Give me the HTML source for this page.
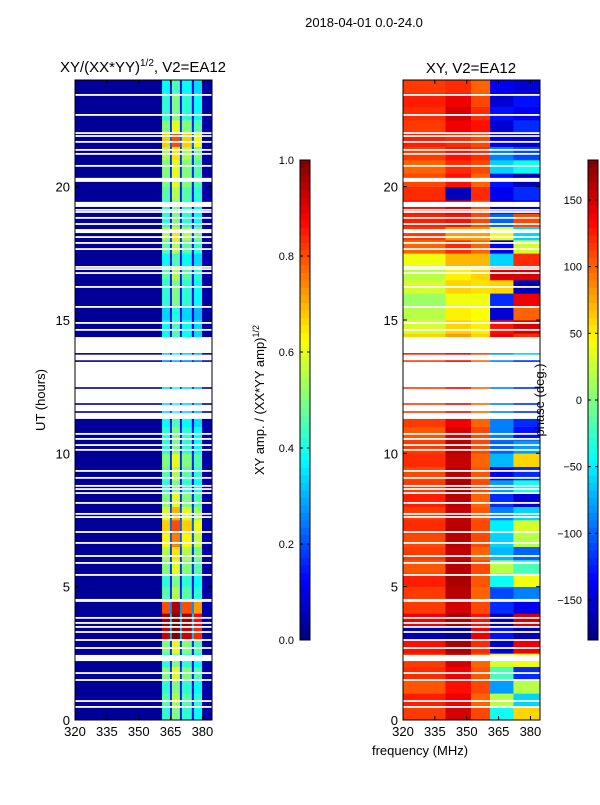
<!DOCTYPE html>
<html><head><meta charset="utf-8"><style>
body{margin:0;background:#fff;}
svg text{font-family:"Liberation Sans",sans-serif;fill:#000;}
</style></head><body>
<svg id="fig" width="600" height="800" xmlns="http://www.w3.org/2000/svg">
<rect width="600" height="800" fill="#fff"/>
<text x="364" y="27" font-size="13" text-anchor="middle">2018-04-01 0.0-24.0</text>
<text x="143" y="72" font-size="15" text-anchor="middle">XY/(XX*YY)<tspan font-size="10" dy="-6">1/2</tspan><tspan dy="6">, V2=EA12</tspan></text>
<text x="471" y="73" font-size="15" text-anchor="middle">XY, V2=EA12</text>
<text transform="translate(45,400) rotate(-90)" font-size="13" text-anchor="middle">UT (hours)</text>
<text x="420" y="755" font-size="13" text-anchor="middle">frequency (MHz)</text>
<text transform="translate(264,400) rotate(-90)" font-size="13" text-anchor="middle">XY amp. / (XX*YY amp)<tspan font-size="9" dy="-5">1/2</tspan></text>
<g id="ampPlot"></g>
<g id="phPlot"></g>
<g id="axes"></g>
<text transform="translate(544,400) rotate(-90)" font-size="13" text-anchor="middle">phase (deg.)</text>
</svg>
<script>
// ---- data ----
const hourBins = 48; // half-hour rows 0..24h
const ampBandStart = [320, 361, 364.7, 365.6, 369.4, 370.3, 375, 376, 379.8];
const ampBandEnd   = [361, 364.7, 365.6, 369.4, 370.3, 375, 376, 379.8, 384.5];
const ampBandLevel = [0.025, 0.42, 0.14, 0.5, 0.14, 0.42, 0.14, 0.38, 0.04];
const ampRowGain = [1.0,1.1,1.0,1.2,1.0, 1.2,2.2,2.3,1.9, 1.1,1.0,1.2,1.3,1.5, 1.6,1.4,1.2,1.0,1.1,1.2,1.0,1.0, 0.9,0.8,0.8,0.7,0.6,0.8,0.9, 0.9,0.8,1.0,1.0,1.1,0.9, 1.1,1.3,1.0, 1.0,1.1,1.2, 1.2,1.3,1.6,1.2,1.0,1.0,0.9];
const phBandStart = [320, 340, 352, 361, 372];
const phBandEnd   = [340, 352, 361, 372, 384.5];
const phA = [115,125,105,120,115, 130,-160,140,115, 115,125,105,115,110, 120,115,125,115,110,120,115,105, 115,115,115,115,115,125,60, 30,20,10,30,20,40, 100,115,125, 130,120,110, 100,115,125,115,120,125,115];
const phB = [150,140,130,140,150, 165,-170,165,150, 160,165,160,155,160, 160,155,160,165,160,155,160,150, 140,140,140,140,140,140,80, 60,50,40,60,50,70, 120,80,130, 150,-160,130, 120,130,120,140,150,140,120];
const phC = [110,100,110,105,100, 120,140,130,110, 100,105,110,100,110, 110,105,100,110,105,100,110,110, 100,100,100,100,100,110,60, 50,45,40,55,60,70, 100,80,110, 110,120,100, 110,120,110,130,120,110,100];
const phD = [-40,20,-80,-20,30, -150,-130,-160,-120, -110,-40,20,-70,-60, -50,-90,-120,-80,-140,-70,-100,-90, -90,-90,-90,-90,-90,-80,140, 130,-150,-120,60,150,-60, -140,40,-100, -150,-140,-130, -60,-90,-140,-150,-130,-150,-140];
const phE = [60,-60,20,-120,40, 140,-160,150,-140, -90,40,-20,-100,20, 30,-60,-150,-40,-120,60,-80,-130, -120,-120,-120,-120,-120,-60,120, 150,100,140,-160,150,120, 30,-60,110, -150,-120,-160, -40,-110,-150,-120,-140,-130,-150];
const flagLines = [23.44,22.69,22.01,21.9,21.68,21.38,21.23,20.78,19.13,19.05,18.83,18.6,18.11,17.89,17.66,16.99,16.91,16.76,16.24,15.49,14.89,14.63,10.73,10.54,10.31,10.13,9.34,9.08,8.78,8.66,8.51,8.14,7.73,7.61,7.05,6.64,6.15,5.89,5.44,3.83,3.64,3.49,3.3,3.0,2.7,1.76,1.5,0.71,0.49];
const flagBlockStart = [20.18,19.24,18.26,11.29,4.43,2.21];
const flagBlockEnd   = [20.33,19.43,18.41,14.36,4.54,2.44];
const keptLines = [13.73,13.46,12.45,11.85,11.55];
const xTicks = [320,335,350,365,380];
const yTicks = [0,5,10,15,20];
const ampCbTicks = [0.0,0.2,0.4,0.6,0.8,1.0];
const phCbTicks = [-150,-100,-50,0,50,100,150];

// ---- geometry ----
const NS='http://www.w3.org/2000/svg';
const fmin=320,fmax=384.5,yTop=80,yBot=720;
function yS(h){return yBot-(h/24)*(yBot-yTop);}
function jet(v){v=Math.max(0,Math.min(1,v));
 const f=t=>Math.max(0,Math.min(1,1.5-Math.abs(4*v-t)));
 return 'rgb('+Math.round(255*f(3))+','+Math.round(255*f(2))+','+Math.round(255*f(1))+')';}
function mk(tag,attrs,parent){const e=document.createElementNS(NS,tag);for(const k in attrs)e.setAttribute(k,attrs[k]);parent.appendChild(e);return e;}
function rowColor(kind,bi,r){
 if(kind==='amp') return jet(ampBandLevel[bi]*(bi===0||bi===8?1:ampRowGain[r]));
 const arr=[phA,phB,phC,phD,phE][bi];return jet((arr[r]+180)/360);
}
function drawPlot(g,x0,x1,kind){
 const xS=f=>x0+(f-fmin)/(fmax-fmin)*(x1-x0);
 const starts=kind==='amp'?ampBandStart:phBandStart, ends=kind==='amp'?ampBandEnd:phBandEnd;
 for(let r=0;r<hourBins;r++){
  for(let b=0;b<starts.length;b++){
   const c=mk('rect',{x:xS(starts[b]),y:yS((r+1)*0.5),width:xS(ends[b])-xS(starts[b])+0.3,height:yS(r*0.5)-yS((r+1)*0.5)+0.3,fill:rowColor(kind,b,r)},g);
   
   
  }
 }
 for(let i=0;i<flagBlockStart.length;i++){
  const w=mk('rect',{x:x0,y:yS(flagBlockEnd[i]),width:x1-x0,height:yS(flagBlockStart[i])-yS(flagBlockEnd[i]),fill:'#fff'},g);
  
  
 }
 for(const h of keptLines){
  const r=Math.floor(h*2);
  for(let b=0;b<starts.length;b++){
   const l=mk('rect',{x:xS(starts[b]),y:yS(h)-0.8,width:xS(ends[b])-xS(starts[b]),height:1.6,fill:rowColor(kind,b,r)},g);
   
   
  }
 }
 for(const h of flagLines){
  const l=mk('rect',{x:x0,y:yS(h)-0.9,width:x1-x0,height:1.8,fill:'#fff'},g);
  
  
 }
}
function drawAxes(x0,x1,name){
 const ax=document.getElementById('axes');
 const xS=f=>x0+(f-fmin)/(fmax-fmin)*(x1-x0);
 const fr=mk('rect',{x:x0,y:yTop,width:x1-x0,height:yBot-yTop,fill:'none',stroke:'#000','stroke-width':1},ax);
 
 
 for(const t of xTicks){
  mk('line',{x1:xS(t),x2:xS(t),y1:yBot,y2:yBot-4,stroke:'#000'},ax);
  mk('line',{x1:xS(t),x2:xS(t),y1:yTop,y2:yTop+4,stroke:'#000'},ax);
  const tx=mk('text',{x:xS(t),y:yBot+16,'font-size':13,'text-anchor':'middle'},ax);tx.textContent=t;
  
  
 }
 for(const t of yTicks){
  mk('line',{x1:x0,x2:x0+4,y1:yS(t),y2:yS(t),stroke:'#000'},ax);
  mk('line',{x1:x1,x2:x1-4,y1:yS(t),y2:yS(t),stroke:'#000'},ax);
  const tx=mk('text',{x:x0-5,y:yS(t)+5,'font-size':13,'text-anchor':'end'},ax);tx.textContent=t;
  
  
 }
}
function drawColorbar(x0,vmin,vmax,ticks,fmt,name){
 const ax=document.getElementById('axes');
 const cy0=160,cy1=640,n=64;
 for(let i=0;i<n;i++){
  const s=mk('rect',{x:x0,y:cy1-(i+1)*(cy1-cy0)/n,width:10,height:(cy1-cy0)/n+0.4,fill:jet((i+0.5)/n)},ax);
  
  
 }
 const fr=mk('rect',{x:x0,y:cy0,width:10,height:cy1-cy0,fill:'none',stroke:'#000'},ax);
 
 
 for(const t of ticks){
  const y=cy1-(t-vmin)/(vmax-vmin)*(cy1-cy0);
  mk('line',{x1:x0,x2:x0+3,y1:y,y2:y,stroke:'#000'},ax);
  mk('line',{x1:x0+10,x2:x0+7,y1:y,y2:y,stroke:'#000'},ax);
  const tx=mk('text',{x:x0-6,y:y+4,'font-size':11,'text-anchor':'end'},ax);tx.textContent=fmt(t);
  
  
 }
}
drawPlot(document.getElementById('ampPlot'),75,212,'amp');
drawPlot(document.getElementById('phPlot'),403,540,'phase');
drawAxes(75,212,'amp-axes');
drawAxes(403,540,'phase-axes');
drawColorbar(300,0,1,ampCbTicks,t=>t.toFixed(1),'amp-colorbar');
drawColorbar(588,-180,180,phCbTicks,t=>t<0?'\u2212'+(-t):String(t),'phase-colorbar');
</script>
</body></html>
